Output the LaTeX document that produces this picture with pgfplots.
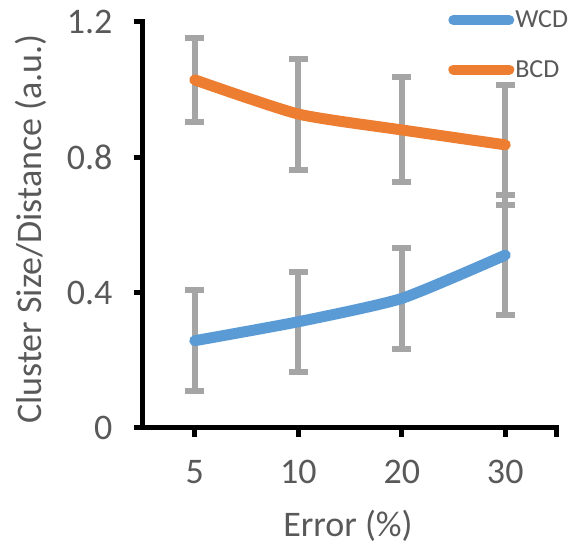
\documentclass[border=0pt]{standalone}
\usepackage{fontspec}
\setmainfont{Carlito}
\usepackage{pgfplots}
\pgfplotsset{compat=1.18}
\definecolor{wcd}{RGB}{91,155,213}
\definecolor{bcd}{RGB}{237,125,49}
\definecolor{errgray}{RGB}{165,165,165}
\definecolor{txtgray}{RGB}{89,89,89}

\begin{document}
\begin{tikzpicture}
\begin{axis}[
    name=ax,
    scale only axis,
    width=414pt, height=406pt,
    xmin=0.5, xmax=4.5, ymin=0, ymax=1.2,
    axis x line*=bottom, axis y line*=left,
    axis line style={line width=5pt, line cap=rect, black},
    xtick={1,2,3,4}, xticklabels={5,10,20,30},
    extra x ticks={4.5}, extra x tick labels={},
    ytick={0,0.4,0.8,1.2}, yticklabels={0,0.4,0.8,1.2},
    tick align=outside, major tick length=9pt,
    tick style={line width=5pt, black},
    tick label style={font=\fontsize{36}{43}\selectfont, text=txtgray},
    xticklabel style={yshift=-20pt},
    yticklabel style={xshift=-18pt},
    /pgf/number format/assume math mode=true,
    xlabel={Error (\%)},
    ylabel={Cluster Size/Distance (a.u.)},
    label style={font=\fontsize{36}{43}\selectfont, text=txtgray},
    xlabel style={at={(axis description cs:0.495,-0.268)}, anchor=base},
    ylabel style={at={(axis description cs:-0.246,0.49)}, anchor=base},
    clip=false,
    legend style={at={(axis description cs:0.737,1.03)}, anchor=north west,
        draw=none, fill=none, font=\fontsize{26}{31}\selectfont, text=txtgray,
        row sep=29pt, inner sep=0pt, nodes={inner sep=1pt}},
    legend cell align=left,
    legend image code/.code={\draw[#1, line width=10pt, line cap=round] (0pt,0pt) -- (56pt,0pt);},
]
% error bars first, lines drawn over them
\addplot[forget plot, draw=none, mark=none,
    error bars/.cd, y dir=both, y explicit,
    error bar style={draw=errgray, line width=6pt},
    error mark options={draw=errgray, line width=6pt, mark size=9.5pt, rotate=90}]
    coordinates {(1,0.258) +- (0,0.150) (2,0.314) +- (0,0.148) (3,0.383) +- (0,0.149) (4,0.511) +- (0,0.178)};
\addplot[forget plot, draw=none, mark=none,
    error bars/.cd, y dir=both, y explicit,
    error bar style={draw=errgray, line width=6pt},
    error mark options={draw=errgray, line width=6pt, mark size=9.5pt, rotate=90}]
    coordinates {(1,1.029) +- (0,0.125) (2,0.928) +- (0,0.164) (3,0.881) +- (0,0.155) (4,0.837) +- (0,0.177)};

\addplot[wcd, line width=11pt, line cap=round, line join=round, smooth, tension=0.35]
    coordinates {(1,0.258) (2,0.314) (3,0.383) (4,0.511)};
\addplot[bcd, line width=11pt, line cap=round, line join=round, smooth, tension=0.35]
    coordinates {(1,1.029) (2,0.928) (3,0.881) (4,0.837)};
\legend{WCD, BCD}
\end{axis}
\pgfresetboundingbox
\path ([shift={(-143pt,-118pt)}]ax.south west) rectangle ([shift={(436pt,428pt)}]ax.south west);
\end{tikzpicture}
\end{document}
